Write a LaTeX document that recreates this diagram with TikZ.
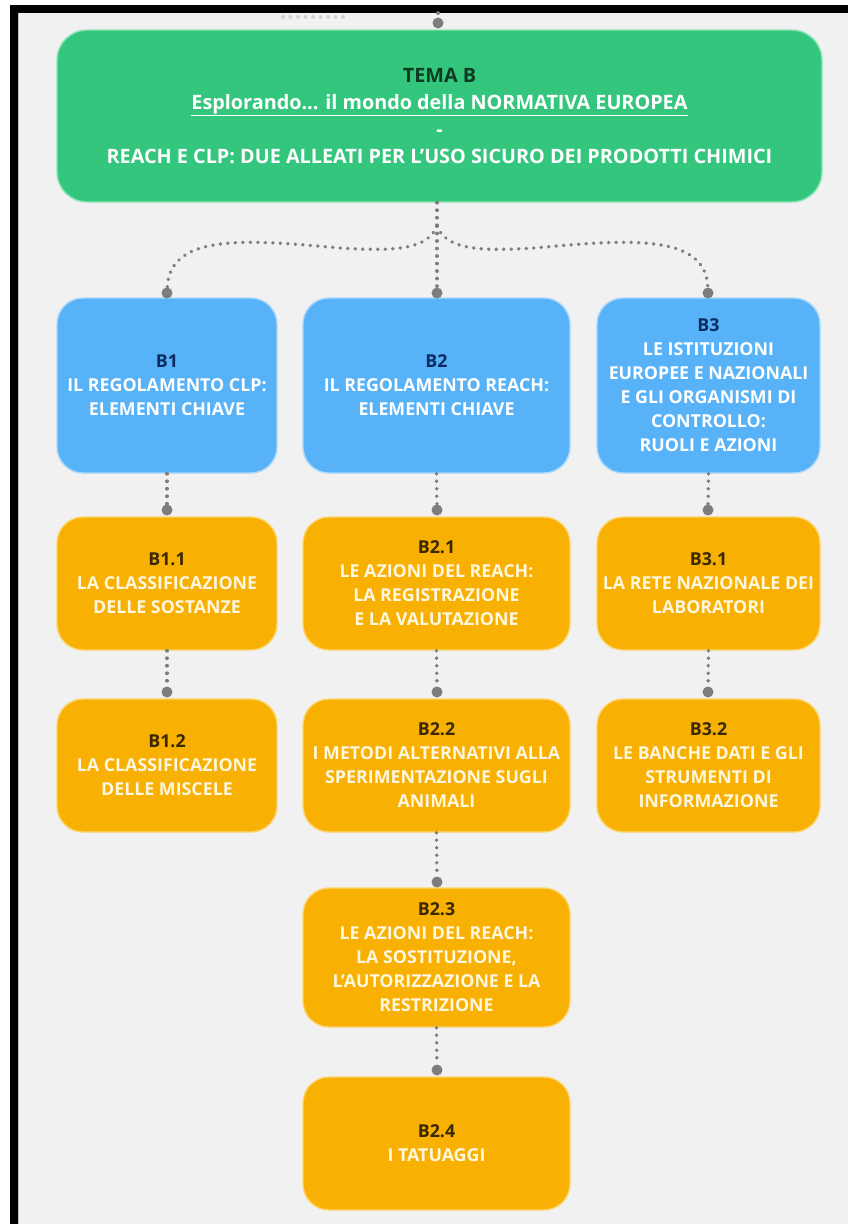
\documentclass[tikz,border=0pt]{standalone}
\usepackage{fontspec}
\setmainfont{Open Sans}
\definecolor{bg}{HTML}{F1F1F1}
\definecolor{grn}{HTML}{35C67E}
\definecolor{grnedge}{HTML}{8FE6B8}
\definecolor{blu}{HTML}{58B2F8}
\definecolor{bluedge}{HTML}{A9D8FB}
\definecolor{org}{HTML}{F8B003}
\definecolor{orgedge}{HTML}{FCD56E}
\definecolor{conn}{HTML}{7D7D7D}
\definecolor{navy}{HTML}{0B2B63}
\definecolor{brownish}{HTML}{3A2800}
\definecolor{dgreen}{HTML}{0D3A22}
\definecolor{ltxt}{HTML}{FFF7DE}
\tikzset{
  box/.style={rounded corners=26pt, line width=1.4pt, align=center, inner sep=2pt,
    font=\fontsize{17.8}{24}\selectfont\bfseries},
  bluebox/.style={box, fill=blu, draw=bluedge, text=white},
  orgbox/.style={box, fill=org, draw=orgedge, text=ltxt},
  greenbox/.style={box, rounded corners=30pt, fill=grn, draw=grnedge, text=white,
    font=\fontsize{19.8}{27}\selectfont\bfseries},
  conn/.style={draw=conn, line width=3.8pt, line cap=round, dash pattern=on 0.01pt off 7.5pt},
  enddot/.style={circle, fill=conn, draw=none, minimum size=11pt, inner sep=0pt},
}
\begin{document}
\begin{tikzpicture}[x=1pt,y=-1pt]
\useasboundingbox (0,0) rectangle (848,1224);
\fill[white] (0,0) rectangle (848,1224);
\fill[bg] (10,5) rectangle (848,1224);
\fill[black] (10,5) rectangle (848,13);
\fill[black] (10,5) rectangle (18,1224);
\fill[black!25] (18,13) rectangle (19,1224);

% faint remnant of an upper connector
\coordinate (remA) at (283,17);
\coordinate (remB) at (345,17);
\draw[conn, draw=conn!35] (remA) -- (remB);

% top connector
\coordinate (topin) at (438,13);
\node[enddot] (dtop) at (438,23) {};
\draw[conn] (topin) -- (dtop);

% main box
\node[greenbox, minimum width=765pt, minimum height=172pt] (tema) at (439.5,116) {%
  {\color{dgreen}TEMA B}\\
  \underline{Esplorando... il mondo della NORMATIVA EUROPEA}\\
  -\\
  REACH E CLP: DUE ALLEATI PER L'USO SICURO DEI PRODOTTI CHIMICI};

% level 1
\node[bluebox, minimum width=220pt, minimum height=175pt] (b1) at (167,385.5) {%
  {\color{navy}B1}\\IL REGOLAMENTO CLP:\\ELEMENTI CHIAVE};
\node[bluebox, minimum width=267pt, minimum height=175pt] (b2) at (436.5,385.5) {%
  {\color{navy}B2}\\IL REGOLAMENTO REACH:\\ELEMENTI CHIAVE};
\node[bluebox, minimum width=223pt, minimum height=175pt] (b3) at (708.5,385.5) {%
  {\color{navy}B3}\\LE ISTITUZIONI\\EUROPEE E NAZIONALI\\E GLI ORGANISMI DI\\CONTROLLO:\\RUOLI E AZIONI};

% level 2
\node[orgbox, minimum width=220pt, minimum height=133pt] (b11) at (167,583.5) {%
  {\color{brownish}B1.1}\\LA CLASSIFICAZIONE\\DELLE SOSTANZE};
\node[orgbox, minimum width=267pt, minimum height=133pt] (b21) at (436.5,583.5) {%
  {\color{brownish}B2.1}\\LE AZIONI DEL REACH:\\LA REGISTRAZIONE\\E LA VALUTAZIONE};
\node[orgbox, minimum width=223pt, minimum height=133pt] (b31) at (708.5,583.5) {%
  {\color{brownish}B3.1}\\LA RETE NAZIONALE DEI\\LABORATORI};

% level 3
\node[orgbox, minimum width=220pt, minimum height=133pt] (b12) at (167,765.5) {%
  {\color{brownish}B1.2}\\LA CLASSIFICAZIONE\\DELLE MISCELE};
\node[orgbox, minimum width=267pt, minimum height=133pt] (b22) at (436.5,765.5) {%
  {\color{brownish}B2.2}\\I METODI ALTERNATIVI ALLA\\SPERIMENTAZIONE SUGLI\\ANIMALI};
\node[orgbox, minimum width=223pt, minimum height=133pt] (b32) at (708.5,765.5) {%
  {\color{brownish}B3.2}\\LE BANCHE DATI E GLI\\STRUMENTI DI\\INFORMAZIONE};

% level 4, 5
\node[orgbox, minimum width=267pt, minimum height=139pt] (b23) at (436.5,957.5) {%
  {\color{brownish}B2.3}\\LE AZIONI DEL REACH:\\LA SOSTITUZIONE,\\L'AUTORIZZAZIONE E LA\\RESTRIZIONE};
\node[orgbox, minimum width=267pt, minimum height=133pt] (b24) at (436.5,1143.5) {%
  {\color{brownish}B2.4}\\I TATUAGGI};

% end dots
\node[enddot] (d1) at (167,293) {};
\node[enddot] (d2) at (437,293) {};
\node[enddot] (d3) at (708,293) {};
\node[enddot] (d11) at (167,510) {};
\node[enddot] (d21) at (437,510) {};
\node[enddot] (d31) at (708,510) {};
\node[enddot] (d12) at (167,692) {};
\node[enddot] (d22) at (437,692) {};
\node[enddot] (d32) at (708,692) {};
\node[enddot] (d23) at (437,882) {};
\node[enddot] (d24) at (437,1070) {};

% branching connectors
\coordinate (split) at (437,226);
\draw[conn] (tema.south -| split) -- (split);
\draw[conn] (split) -- (d2);
\draw[conn] (split) .. controls (428,248) and (400,252) .. (340,248)
  .. controls (250,240) and (170,232) .. (d1);
\draw[conn] (split) .. controls (446,248) and (474,252) .. (534,248)
  .. controls (624,240) and (706,232) .. (d3);

% vertical connectors
\draw[conn] (b1.south) -- (d11);
\draw[conn] (b2.south) -- (d21);
\draw[conn] (b3.south) -- (d31);
\draw[conn] (b11.south) -- (d12);
\draw[conn] (b21.south) -- (d22);
\draw[conn] (b31.south) -- (d32);
\draw[conn] (b22.south) -- (d23);
\draw[conn] (b23.south) -- (d24);
\end{tikzpicture}
\end{document}
